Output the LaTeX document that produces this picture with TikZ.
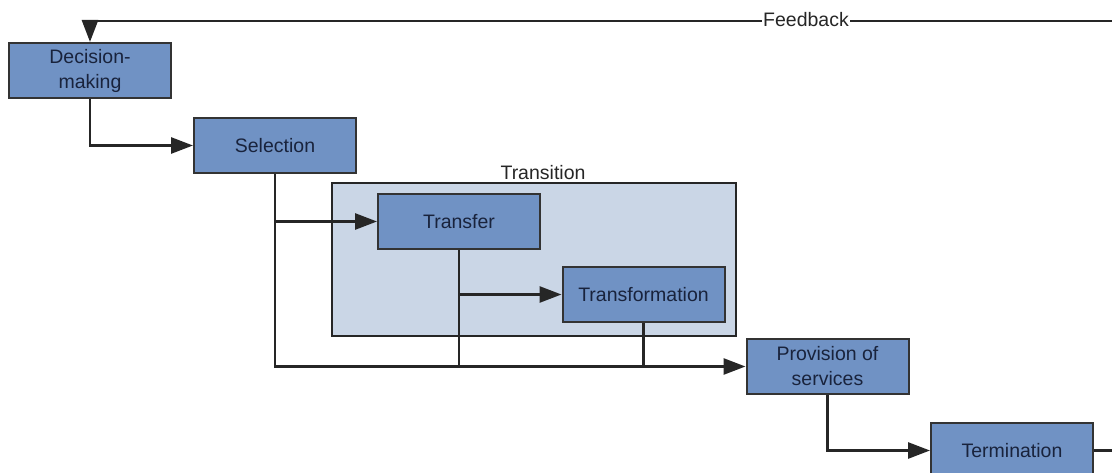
\documentclass[tikz,border=0pt]{standalone}
\usepackage{fontspec}
\setmainfont{Liberation Sans}
\usetikzlibrary{arrows.meta}
\definecolor{boxfill}{RGB}{112,146,196}
\definecolor{contfill}{RGB}{202,214,230}
\definecolor{txt}{RGB}{25,35,60}
\begin{document}
\begin{tikzpicture}[x=1pt,y=-1pt,
  box/.style={draw=black!80, line width=2pt, fill=boxfill, minimum width=162pt, minimum height=55pt, inner sep=0pt, align=center, text=txt, font=\fontsize{19.5}{25}\selectfont},
  conn/.style={line width=2.8pt, draw=black!85},
  arr/.style={conn, -{Triangle[length=22pt,width=16pt]}},
  lbl/.style={font=\fontsize{19.5}{23}\selectfont, text=black!85}]
\useasboundingbox (0,0) rectangle (1112,473);
\node[draw=black!85, line width=2.6pt, fill=contfill, minimum width=404pt, minimum height=153pt, inner sep=0pt] (trans) at (534,259.5) {};
\node[lbl, anchor=base] (translabel) at (543,180) {Transition};
\node[box] (dm) at (90,70.5) {Decision-\\making};
\node[box] (sel) at (275,145.5) {Selection};
\node[box] (tf) at (459,221.5) {Transfer};
\node[box] (tr) at (643.5,294.5) {Transformation};
\node[box] (pr) at (827.5,366.5) {Provision of\\services};
\node[box] (te) at (1012,450.5) {Termination};
\coordinate (corner) at (1120,21);
\draw[arr] (dm.south) |- (sel.west);
\draw[arr] (sel.south) |- (pr.west);
\draw[arr] (sel.south |- tf.west) -- (tf.west);
\draw[conn] (tf.south) -- (tf.south |- pr.west);
\draw[arr] (tf.south |- tr.west) -- (tr.west);
\draw[conn] (tr.south) -- (tr.south |- pr.west);
\draw[arr] (pr.south) |- (te.west);
\draw[arr] (te.east) -| (corner) -| (dm.north);
\node[lbl, fill=white, inner sep=1pt] (fb) at (806,20) {Feedback};
\end{tikzpicture}
\end{document}
